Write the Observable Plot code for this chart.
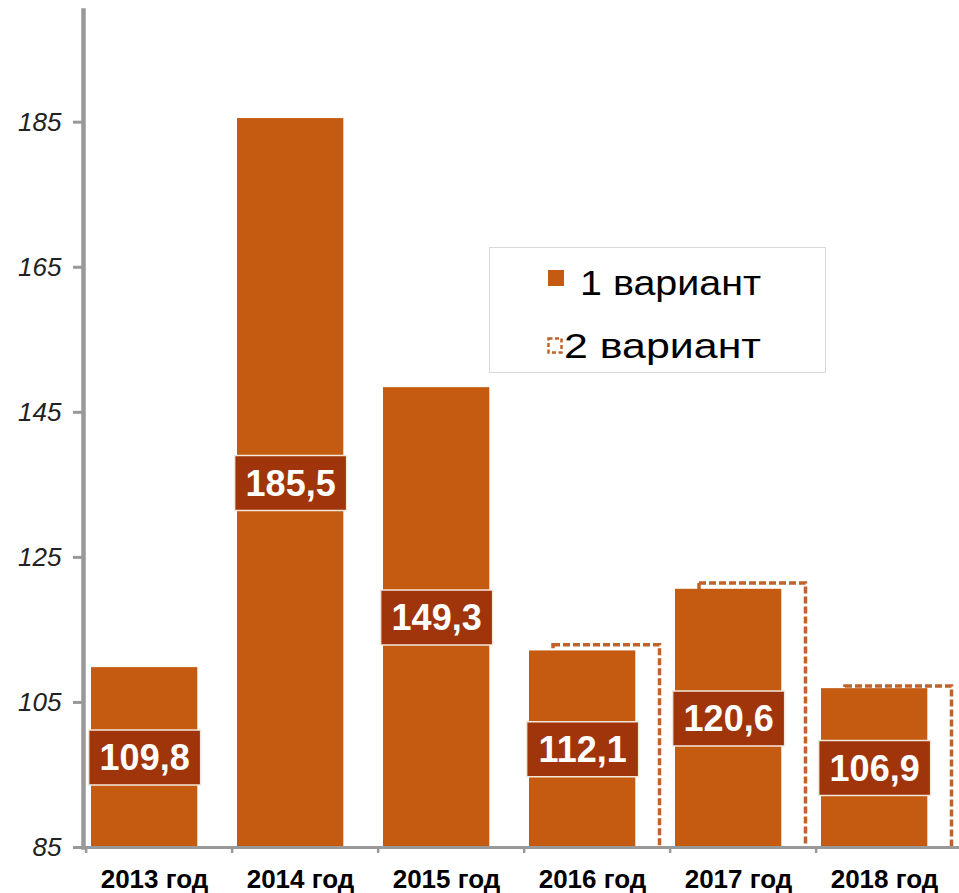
<!DOCTYPE html>
<html>
<head>
<meta charset="utf-8">
<script src="https://cdn.jsdelivr.net/npm/d3@7"></script>
<script src="https://cdn.jsdelivr.net/npm/@observablehq/plot@0.6"></script>
<style>
html, body { margin: 0; padding: 0; background: #fff; overflow: hidden; }
#wrap { position: relative; width: 959px; height: 893px; }
#legend { position: absolute; left: 489px; top: 247px; }
svg text { font-family: "Liberation Sans", Arial, sans-serif; }
</style>
</head>
<body>
<div id="wrap">
  <div id="chart"></div>
  <div id="legend"></div>
</div>
<script>
// ---- data ----
const years = ["2013 год", "2014 год", "2015 год", "2016 год", "2017 год", "2018 год"];
const variant1 = [109.8, 185.5, 148.4, 112.1, 120.6, 106.9];
const variant2 = [null, null, null, 112.9, 121.4, 107.2];
const labels = ["109,8", "185,5", "149,3", "112,1", "120,6", "106,9"];
const yTicks = [85, 105, 125, 145, 165, 185];
const seriesNames = ["1 вариант", "2 вариант"];

const BAR = "#C55A11";
const DASH = "#c0622a";
const BASE = 85;

const s1 = years.map((year, i) => ({year, value: variant1[i], label: labels[i]}));
const s2 = years.map((year, i) => ({year, value: variant2[i]})).filter(d => d.value != null);

const xRange = [84, 964.2];
const step = (xRange[1] - xRange[0]) / years.length;

const boxSymbol = {draw(ctx) { ctx.rect(-56, -27.5, 112, 55); }};

const chart = Plot.plot({
  width: 959,
  height: 893,
  marginLeft: 83,
  marginRight: 0,
  marginTop: 10,
  marginBottom: 46,
  x: {domain: years, range: xRange, padding: 0},
  y: {domain: [BASE, 200.4]},
  style: {fontFamily: "'Liberation Sans', Arial, sans-serif", background: "transparent"},
  marks: [
    Plot.barY(s2, {x: "year", y1: BASE, y2: "value", insetLeft: 29, insetRight: 10.5, insetBottom: -3,
      clip: "frame", fill: "none", stroke: DASH, strokeWidth: 3.5, strokeDasharray: "7,3"}),
    Plot.barY(s1, {x: "year", y1: BASE, y2: "value", insetLeft: 5, insetRight: 34.7, fill: BAR}),
    Plot.dot(s1, {x: "year", y: d => (BASE + d.value) / 2, dx: -14.85, r: 1, symbol: boxSymbol,
      fill: "#a0340a", stroke: "#f3e8dc", strokeWidth: 1.5}),
    Plot.text(s1, {x: "year", y: d => (BASE + d.value) / 2, dx: -14.85, dy: 1, text: "label",
      fill: "white", fontSize: 36, fontWeight: "bold"}),
    Plot.axisY({ticks: yTicks, tickSize: 10, tickPadding: 12, stroke: "#999", strokeWidth: 3,
      fill: "#222", fontSize: 26, fontStyle: "italic", label: null}),
    Plot.axisX({tickSize: 6, dx: -step / 2, tickFormat: () => "", stroke: "#999", strokeWidth: 2.5, label: null}),
    Plot.axisX({tickSize: 0, tickPadding: 22, dx: -5, fill: "#000", fontSize: 26, fontWeight: "bold", label: null}),
    Plot.frame({anchor: "bottom", stroke: "#999", strokeWidth: 3}),
    Plot.frame({anchor: "left", stroke: "#999", strokeWidth: 4.5})
  ]
});
document.getElementById("chart").appendChild(chart);

// ---- legend ----
const lg = d3.select("#legend").append("svg").attr("width", 338).attr("height", 127);
lg.append("rect").attr("x", 0.5).attr("y", 0.5).attr("width", 336).attr("height", 125)
  .attr("fill", "#fff").attr("stroke", "#d9d9d9");
lg.append("rect").attr("x", 59).attr("y", 23).attr("width", 16).attr("height", 16).attr("fill", BAR);
lg.append("text").attr("x", 91).attr("y", 48).attr("font-size", 35).attr("textLength", 181)
  .attr("lengthAdjust", "spacingAndGlyphs").text(seriesNames[0]);
lg.append("rect").attr("x", 59.5).attr("y", 91.5).attr("width", 13).attr("height", 14)
  .attr("fill", "none").attr("stroke", DASH).attr("stroke-width", 2.5).attr("stroke-dasharray", "4,2.5");
lg.append("text").attr("x", 75).attr("y", 111).attr("font-size", 35).attr("textLength", 197)
  .attr("lengthAdjust", "spacingAndGlyphs").text(seriesNames[1]);
</script>
</body>
</html>
